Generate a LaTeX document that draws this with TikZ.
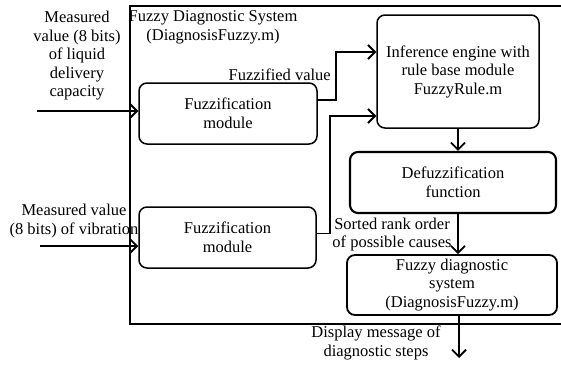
\documentclass[tikz,border=0pt]{standalone}
\usepackage{fontspec}
\setmainfont{Liberation Serif}
\usetikzlibrary{positioning,calc,arrows.meta}

\tikzset{
  blk/.style={draw, rounded corners=8pt, line width=1.5pt, align=center, inner sep=2pt},
  lbl/.style={align=center, inner sep=0pt},
  arr/.style={line width=1.6pt, -{Straight Barb[length=7pt,width=14pt,line width=1.8pt]}}
}

\begin{document}
\begin{tikzpicture}[x=1pt, y=-1pt, font=\fontsize{16.5}{18.5}\selectfont]
  \useasboundingbox (0,0) rectangle (561,364);
  % outer frame
  \draw[line width=1.4pt] (130,6) rectangle (570,324);
  \node[lbl] (sysname) at (213,27.5) {Fuzzy Diagnostic System\\(DiagnosisFuzzy.m)};

  % blocks
  \node[blk, minimum width=178pt, minimum height=61pt] (fuzA) at (228,113.5) {Fuzzification\\module};
  \node[blk, minimum width=177pt, minimum height=61pt] (fuzB) at (227.5,237.5) {Fuzzification\\module};
  \node[blk, minimum width=162pt, minimum height=113pt] (infer) at (458,71.5) {Inference engine with\\rule base module\\FuzzyRule.m};
  \node[blk, line width=2.1pt, minimum width=206pt, minimum height=61pt] (defuz) at (453,182.5) {Defuzzification\\function};
  \node[blk, line width=1.8pt, minimum width=210pt, minimum height=60pt] (fds) at (452,285) {Fuzzy diagnostic\\system\\(DiagnosisFuzzy.m)};

  % inputs
  \coordinate (inA) at (37,111);
  \coordinate (inB) at (40,246);
  \node[lbl] (inAlab) at (77,56) {Measured\\value (8 bits)\\of liquid\\delivery\\capacity};
  \node[lbl] (inBlab) at (74,221) {Measured value\\(8 bits) of vibration};
  \draw[arr] (inA) -- (fuzA.west |- inA);
  \draw[arr] (inB) -- (fuzB.west |- inB);

  % to the inference engine
  \draw[arr] ($(fuzA.east)+(0,-13.5)$) -- ++(18,0) |- ($(infer.west)+(0,-19.5)$);
  \node[anchor=base east, inner sep=0pt] (fzlab) at (331,80) {Fuzzified value};
  \draw[arr] ($(fuzB.east)+(0,-4)$) -- ++(13,0) |- ($(infer.west)+(0,44.5)$);

  % down the chain
  \draw[arr] (infer.south) -- (infer.south |- defuz.north);
  \draw[arr] (infer.south |- defuz.south) -- (infer.south |- fds.north);
  \node[lbl] (rklab) at (392,234.5) {Sorted rank order\\of possible causes};

  % output
  \coordinate (out) at (459,358);
  \draw[arr] (out |- fds.south) -- (out);
  \node[lbl] (outlab) at (376,343) {Display message of\\diagnostic steps};
\end{tikzpicture}
\end{document}
